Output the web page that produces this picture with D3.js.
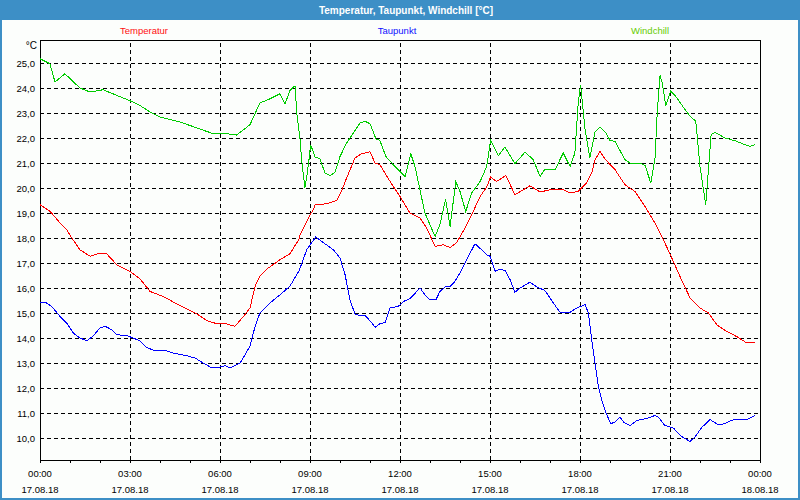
<!DOCTYPE html>
<html>
<head>
<meta charset="utf-8">
<script src="https://cdn.jsdelivr.net/npm/d3@7"></script>
<style>
  body { margin: 0; background: #fff; }
  svg { display: block; font-family: "Liberation Sans", Arial, sans-serif; }
</style>
</head>
<body>
<svg id="chart" width="800" height="500"></svg>
<script>
// Series: [hour of day, °C]
const temperatur = [
  [0, 19.33], [0.33, 19.07], [0.67, 18.6], [0.89, 18.33], [1.06, 18.0], [1.33, 17.53],
  [1.67, 17.27], [2.0, 17.4], [2.22, 17.37], [2.56, 16.93], [3.0, 16.66], [3.33, 16.37],
  [3.67, 15.86], [4.11, 15.66], [4.67, 15.29], [5.22, 14.97], [5.56, 14.7], [5.89, 14.57],
  [6.22, 14.56], [6.5, 14.47], [6.78, 14.86], [7.0, 15.2], [7.17, 16.07], [7.33, 16.47],
  [7.61, 16.8], [8.0, 17.13], [8.33, 17.37], [8.64, 17.96], [8.67, 18.13], [9.0, 18.93],
  [9.11, 19.13], [9.17, 19.33], [9.56, 19.37], [9.89, 19.5], [10.06, 19.9], [10.22, 20.4],
  [10.5, 21.2], [10.72, 21.37], [11.0, 21.45], [11.17, 21.0], [11.33, 20.93], [11.67, 20.26],
  [12.0, 19.66], [12.33, 19.0], [12.67, 18.8], [12.89, 18.4], [13.17, 17.66], [13.44, 17.73],
  [13.67, 17.62], [13.89, 17.82], [14.17, 18.4], [14.39, 18.93], [14.67, 19.66], [14.89, 20.04],
  [15.02, 20.44], [15.22, 20.26], [15.53, 20.5], [15.83, 19.73], [16.33, 20.09], [16.67, 19.84],
  [17.0, 19.93], [17.44, 19.93], [17.67, 19.8], [17.94, 19.86], [18.22, 20.2], [18.39, 20.6],
  [18.5, 21.13], [18.67, 21.46], [18.83, 21.16], [19.17, 20.73], [19.5, 20.13], [19.83, 19.86],
  [20.17, 19.26], [20.5, 18.6], [20.83, 17.8], [21.06, 17.2], [21.33, 16.47], [21.67, 15.6],
  [22.0, 15.2], [22.28, 15.0], [22.56, 14.53], [22.89, 14.26], [23.22, 14.06], [23.56, 13.8],
  [23.83, 13.84]
];

const taupunkt = [
  [0, 15.4], [0.17, 15.44], [0.39, 15.26], [0.67, 14.86], [0.89, 14.6], [1.11, 14.2],
  [1.33, 14.0], [1.56, 13.89], [1.78, 14.09], [2.0, 14.4], [2.17, 14.47], [2.39, 14.33],
  [2.56, 14.13], [2.89, 14.1], [3.33, 13.89], [3.56, 13.62], [3.83, 13.49], [4.17, 13.5],
  [4.44, 13.4], [4.89, 13.29], [5.17, 13.2], [5.44, 13.0], [5.67, 12.84], [6.0, 12.84],
  [6.17, 12.89], [6.33, 12.8], [6.67, 13.0], [7.0, 13.67], [7.17, 14.47], [7.33, 15.0],
  [7.67, 15.4], [8.0, 15.73], [8.33, 16.07], [8.64, 16.7], [8.89, 17.53], [9.19, 18.04],
  [9.44, 17.82], [9.78, 17.53], [10.0, 17.2], [10.17, 16.53], [10.33, 15.53], [10.5, 14.96],
  [10.67, 14.89], [10.83, 14.9], [11.0, 14.69], [11.17, 14.43], [11.33, 14.57], [11.5, 14.62],
  [11.67, 15.2], [11.94, 15.26], [12.11, 15.46], [12.33, 15.57], [12.67, 16.0], [12.83, 15.73],
  [13.0, 15.53], [13.2, 15.53], [13.33, 15.86], [13.5, 16.04], [13.67, 16.07], [13.83, 16.26],
  [14.06, 16.73], [14.28, 17.27], [14.5, 17.77], [14.72, 17.53], [14.89, 17.33], [15.0, 17.27],
  [15.17, 16.67], [15.33, 16.76], [15.5, 16.7], [15.67, 16.33], [15.83, 15.83], [16.0, 16.0],
  [16.33, 16.23], [16.56, 16.04], [16.83, 15.9], [17.11, 15.4], [17.33, 15.04], [17.67, 15.03],
  [17.89, 15.2], [18.17, 15.33], [18.28, 15.0], [18.39, 13.93], [18.5, 13.0], [18.61, 12.07],
  [18.72, 11.53], [18.87, 11.0], [19.02, 10.57], [19.17, 10.64], [19.33, 10.84], [19.47, 10.62],
  [19.67, 10.5], [19.89, 10.7], [20.22, 10.78], [20.5, 10.9], [20.61, 10.84], [20.83, 10.5],
  [21.11, 10.4], [21.39, 10.06], [21.67, 9.86], [21.83, 10.04], [22.06, 10.42], [22.33, 10.74],
  [22.61, 10.53], [22.72, 10.53], [23.11, 10.73], [23.56, 10.73], [23.83, 10.89]
];

const windchill = [
  [0, 25.17], [0.33, 24.97], [0.5, 24.24], [0.83, 24.57], [1.33, 24.0], [1.67, 23.84],
  [2.1, 23.93], [3.0, 23.49], [3.33, 23.3], [3.67, 23.04], [4.0, 22.84], [4.67, 22.64],
  [5.33, 22.36], [5.78, 22.17], [6.22, 22.17], [6.55, 22.12], [7.0, 22.53], [7.33, 23.4],
  [7.67, 23.57], [8.0, 23.77], [8.17, 23.37], [8.33, 23.9], [8.5, 24.09], [8.56, 23.0],
  [8.67, 21.93], [8.72, 21.13], [8.83, 20.0], [8.91, 20.6], [8.98, 21.26], [9.02, 21.73],
  [9.17, 21.24], [9.33, 21.17], [9.5, 20.6], [9.67, 20.5], [9.83, 20.62], [10.0, 21.26],
  [10.22, 21.8], [10.5, 22.3], [10.67, 22.6], [10.83, 22.67], [11.0, 22.57], [11.2, 21.96],
  [11.33, 21.9], [11.53, 21.26], [11.83, 20.86], [12.17, 20.46], [12.36, 21.37], [12.5, 20.86],
  [12.83, 19.0], [13.17, 18.06], [13.33, 18.53], [13.52, 19.56], [13.67, 18.46], [13.86, 20.26],
  [14.0, 19.86], [14.19, 19.06], [14.39, 19.8], [14.67, 20.26], [14.89, 20.86], [15.02, 21.9],
  [15.28, 21.29], [15.5, 21.64], [15.83, 20.97], [16.17, 21.44], [16.44, 21.13], [16.67, 20.46],
  [16.83, 20.76], [17.17, 20.73], [17.44, 21.4], [17.67, 20.86], [17.83, 21.4], [17.94, 23.4],
  [18.02, 24.13], [18.17, 22.33], [18.33, 21.2], [18.5, 22.23], [18.67, 22.44], [18.87, 22.2],
  [19.0, 21.9], [19.17, 21.86], [19.5, 21.13], [19.67, 21.0], [20.0, 21.0], [20.17, 20.9],
  [20.36, 20.2], [20.5, 21.2], [20.58, 23.13], [20.67, 24.5], [20.74, 24.2], [20.86, 23.29],
  [21.02, 23.87], [21.19, 23.67], [21.44, 23.24], [21.67, 22.87], [21.86, 22.67], [22.0, 20.86],
  [22.19, 19.33], [22.28, 20.73], [22.37, 22.13], [22.5, 22.23], [22.83, 22.0], [23.17, 21.89],
  [23.5, 21.73], [23.67, 21.67], [23.83, 21.73]
];

const seriesNames = ["Temperatur", "Taupunkt", "Windchill"];
const seriesColors = ["#ff0000", "#0000ff", "#00cc00"];
const labelColors = ["#ff1010", "#1010ff", "#66cc00"];
const yTicks = [10, 11, 12, 13, 14, 15, 16, 17, 18, 19, 20, 21, 22, 23, 24, 25];
const titleText = "Temperatur, Taupunkt, Windchill [°C]";

const svg = d3.select("#chart");
const W = 800, H = 500;
const plot = { left: 40, top: 40, right: 760, bottom: 460 };

// Base day for time axis
const day0 = new Date(2018, 7, 17, 0, 0, 0);
const toDate = h => new Date(day0.getTime() + h * 3600e3);
const day1 = toDate(24);

const x = d3.scaleTime().domain([day0, day1]).range([plot.left, plot.right]);
const y = d3.scaleLinear().domain([10, 25]).range([438, 63]);

const deLocale = d3.formatLocale({ decimal: ",", thousands: ".", grouping: [3], currency: ["", " €"] });
const fmtY = deLocale.format(".1f");
const fmtTime = d3.timeFormat("%H:%M");
const fmtDate = d3.timeFormat("%d.%m.%y");

// Window frame and title bar
svg.append("rect").attr("width", W).attr("height", H).attr("fill", "#3d8fc6");
svg.append("rect").attr("x", 2).attr("y", 20).attr("width", W - 4).attr("height", H - 22)
  .attr("fill", "#fcfefc");

svg.append("text")
  .attr("x", 406).attr("y", 14)
  .attr("text-anchor", "middle")
  .attr("fill", "#fff")
  .attr("font-weight", "bold")
  .attr("font-size", "10px")
  .text(titleText);

// Legend labels above plot
const legendX = [144, 397, 650];
svg.selectAll("text.legend")
  .data(seriesNames)
  .enter()
  .append("text")
  .attr("class", "legend")
  .attr("x", (d, i) => legendX[i])
  .attr("y", 34)
  .attr("text-anchor", "middle")
  .attr("font-size", "9.5px")
  .attr("fill", (d, i) => labelColors[i])
  .text(d => d);

svg.append("text")
  .attr("x", 37).attr("y", 49)
  .attr("text-anchor", "end")
  .attr("font-size", "10px")
  .attr("fill", "#000")
  .text("°C");

// Horizontal dashed grid with labels
const yAxis = svg.append("g")
  .attr("transform", `translate(${plot.left},0)`)
  .call(d3.axisLeft(y).tickValues(yTicks).tickSize(-(plot.right - plot.left)).tickPadding(5).tickFormat(fmtY));
yAxis.select(".domain").remove();
yAxis.selectAll(".tick line")
  .attr("stroke", "#000")
  .attr("stroke-dasharray", "4,3")
  .attr("shape-rendering", "crispEdges");
yAxis.selectAll(".tick text")
  .attr("font-family", "Liberation Sans, Arial, sans-serif")
  .attr("font-size", "9.5px")
  .attr("fill", "#000");

// Vertical dashed grid every 3 hours
const gridX = d3.timeHour.every(3).range(toDate(3), toDate(22));
const xGrid = svg.append("g")
  .attr("transform", `translate(0,${plot.bottom})`)
  .call(d3.axisBottom(x).tickValues(gridX).tickSize(-(plot.bottom - plot.top)).tickFormat(""));
xGrid.select(".domain").remove();
xGrid.selectAll(".tick line")
  .attr("stroke", "#000")
  .attr("stroke-dasharray", "4,3")
  .attr("shape-rendering", "crispEdges");

// Hourly ticks below the axis
const xAxis = svg.append("g")
  .attr("transform", `translate(0,${plot.bottom})`)
  .call(d3.axisBottom(x).ticks(d3.timeHour.every(1)).tickSize(3).tickSizeOuter(0).tickFormat(""));
xAxis.selectAll("line, path").attr("stroke", "#000").attr("shape-rendering", "crispEdges");

// Two-line time labels
const labelTicks = d3.timeHour.every(3).range(day0, toDate(24.5));
const lab = svg.append("g").attr("font-size", "9.5px").attr("fill", "#000").attr("text-anchor", "middle");
lab.selectAll("text.time")
  .data(labelTicks)
  .enter()
  .append("text")
  .attr("class", "time")
  .attr("x", d => x(d))
  .attr("y", 477)
  .text(d => fmtTime(d));
lab.selectAll("text.date")
  .data(labelTicks)
  .enter()
  .append("text")
  .attr("class", "date")
  .attr("x", d => x(d))
  .attr("y", 493)
  .text(d => fmtDate(d));

// Plot frame
svg.append("rect")
  .attr("x", plot.left + 0.5).attr("y", plot.top + 0.5)
  .attr("width", plot.right - plot.left).attr("height", plot.bottom - plot.top)
  .attr("fill", "none")
  .attr("stroke", "#000")
  .attr("shape-rendering", "crispEdges");

// Series lines
const line = d3.line()
  .x(d => x(toDate(d[0])))
  .y(d => y(d[1]));

const allSeries = [temperatur, taupunkt, windchill];
svg.append("g")
  .selectAll("path")
  .data(allSeries)
  .enter()
  .append("path")
  .attr("d", line)
  .attr("fill", "none")
  .attr("stroke", (d, i) => seriesColors[i])
  .attr("stroke-width", 1)
  .attr("shape-rendering", "crispEdges");
</script>
</body>
</html>
